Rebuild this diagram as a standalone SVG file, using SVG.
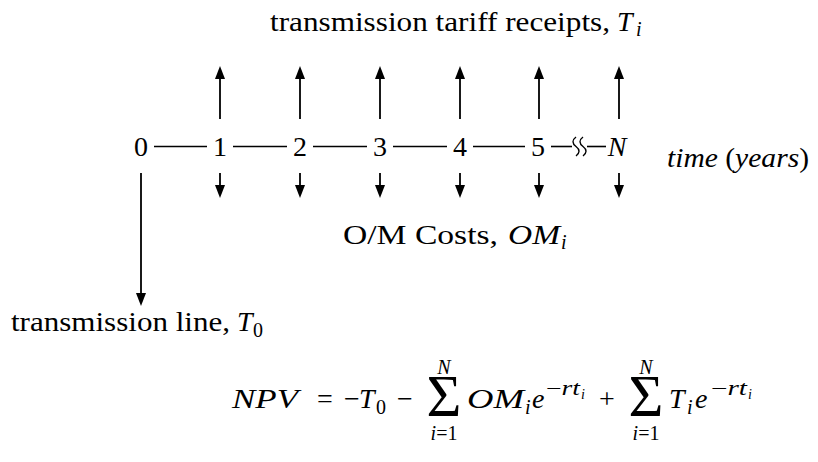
<svg xmlns="http://www.w3.org/2000/svg" width="818" height="462" viewBox="0 0 818 462">
<style>
.t{font-family:'Liberation Serif','Times New Roman',serif;font-size:28px;fill:#000}
.it{font-style:italic}
.s{font-size:20px}
.ss{font-size:14px}
.m{text-anchor:middle}
.sg{font-size:60px}
.ln{stroke:#000;stroke-width:1.6;fill:none}
.ar{stroke:#000;stroke-width:1.8;fill:none;marker-end:url(#ah)}
.wv{stroke:#000;stroke-width:1.4;fill:none}
</style>
<defs>
<marker id="ah" viewBox="0 0 13 10" refX="7" refY="5" markerWidth="13" markerHeight="10" orient="auto" markerUnits="userSpaceOnUse">
<path d="M0,0 L13,5 L0,10 z" fill="#000"/>
</marker>
</defs>
<rect width="818" height="462" fill="#fff"/>

<g id="title" font-family="Liberation Serif, serif">
<text class="t" x="270" y="31" textLength="340" lengthAdjust="spacingAndGlyphs">transmission tariff receipts,</text>
<text class="t it" x="617" y="31">T</text>
<text class="t it s" x="636" y="36">i</text>
</g>

<g id="t0" font-family="Liberation Serif, serif"><text class="t m" x="141" y="156">0</text></g>
<g id="t1" font-family="Liberation Serif, serif"><text class="t m" x="220" y="156">1</text></g>
<g id="t2" font-family="Liberation Serif, serif"><text class="t m" x="300" y="156">2</text></g>
<g id="t3" font-family="Liberation Serif, serif"><text class="t m" x="380" y="156">3</text></g>
<g id="t4" font-family="Liberation Serif, serif"><text class="t m" x="460" y="156">4</text></g>
<g id="t5" font-family="Liberation Serif, serif"><text class="t m" x="538" y="156">5</text></g>
<g id="tN" font-family="Liberation Serif, serif"><text class="t it m" x="617" y="156">N</text></g>

<g id="time-label" font-family="Liberation Serif, serif">
<text class="t" x="667" y="167" textLength="142" lengthAdjust="spacingAndGlyphs"><tspan class="it">time</tspan> (<tspan class="it">years</tspan>)</text>
</g>

<g id="om-label" font-family="Liberation Serif, serif">
<text class="t" x="343" y="244" textLength="155" lengthAdjust="spacingAndGlyphs">O/M Costs,</text>
<text class="t it" x="508" y="244" textLength="52" lengthAdjust="spacingAndGlyphs">OM</text>
<text class="t it s" x="561" y="249">i</text>
</g>

<g id="line-label" font-family="Liberation Serif, serif">
<text class="t" x="11" y="331" textLength="219" lengthAdjust="spacingAndGlyphs">transmission line,</text>
<text class="t it" x="237" y="331">T</text>
<text class="t s" x="253" y="337">0</text>
</g>

<g id="connectors">
<line class="ln" x1="154" y1="146.5" x2="207" y2="146.5"/>
<line class="ln" x1="233" y1="146.5" x2="287" y2="146.5"/>
<line class="ln" x1="313" y1="146.5" x2="367" y2="146.5"/>
<line class="ln" x1="393" y1="146.5" x2="447" y2="146.5"/>
<line class="ln" x1="473" y1="146.5" x2="525" y2="146.5"/>
<line class="ln" x1="551" y1="146.5" x2="572" y2="146.5"/>
<path class="wv" d="M576,137 c-4,3 -4,6.5 0,9.5 c4,3 4,6.5 0,9.5"/>
<path class="wv" d="M583,137 c-4,3 -4,6.5 0,9.5 c4,3 4,6.5 0,9.5"/>
<line class="ln" x1="587" y1="146.5" x2="606" y2="146.5"/>

<line class="ar" x1="220" y1="119" x2="220" y2="72"/>
<line class="ar" x1="300" y1="119" x2="300" y2="72"/>
<line class="ar" x1="380" y1="119" x2="380" y2="72"/>
<line class="ar" x1="460" y1="119" x2="460" y2="72"/>
<line class="ar" x1="539" y1="119" x2="539" y2="72"/>
<line class="ar" x1="619" y1="119" x2="619" y2="72"/>

<line class="ar" x1="220" y1="173" x2="220" y2="192"/>
<line class="ar" x1="300" y1="173" x2="300" y2="192"/>
<line class="ar" x1="380" y1="173" x2="380" y2="192"/>
<line class="ar" x1="460" y1="173" x2="460" y2="192"/>
<line class="ar" x1="539" y1="173" x2="539" y2="192"/>
<line class="ar" x1="619" y1="173" x2="619" y2="192"/>

<line class="ar" x1="141" y1="173" x2="141" y2="300"/>
</g>

<g id="formula" font-family="Liberation Serif, serif">
<text class="t it" x="232" y="408" textLength="66" lengthAdjust="spacingAndGlyphs">NPV</text>
<text class="t m" x="325" y="408">=</text>
<text class="t m" x="352" y="408">−</text>
<text class="t it" x="359" y="408">T</text>
<text class="t s" x="376" y="414">0</text>
<text class="t m" x="405" y="408">−</text>
<text class="t m"><tspan class="sg" x="444" y="416">Σ</tspan><tspan class="s it" x="444" y="374">N</tspan><tspan class="s" x="444" y="440"><tspan class="it">i</tspan>=1</tspan></text>
<text class="t it" x="467" y="408" textLength="57" lengthAdjust="spacingAndGlyphs">OM</text>
<text class="t it s" x="525" y="414">i</text>
<text class="t it" x="532" y="408">e</text>
<text class="t s" x="546" y="395" textLength="34" lengthAdjust="spacingAndGlyphs">−<tspan class="it">rt</tspan></text>
<text class="t it ss" x="581" y="399">i</text>
<text class="t m" x="607" y="408">+</text>
<text class="t m"><tspan class="sg" x="646" y="416">Σ</tspan><tspan class="s it" x="646" y="374">N</tspan><tspan class="s" x="646" y="440"><tspan class="it">i</tspan>=1</tspan></text>
<text class="t it" x="669" y="408">T</text>
<text class="t it s" x="687" y="414">i</text>
<text class="t it" x="695" y="408">e</text>
<text class="t s" x="711" y="395" textLength="36" lengthAdjust="spacingAndGlyphs">−<tspan class="it">rt</tspan></text>
<text class="t it ss" x="748" y="399">i</text>
</g>
</svg>
